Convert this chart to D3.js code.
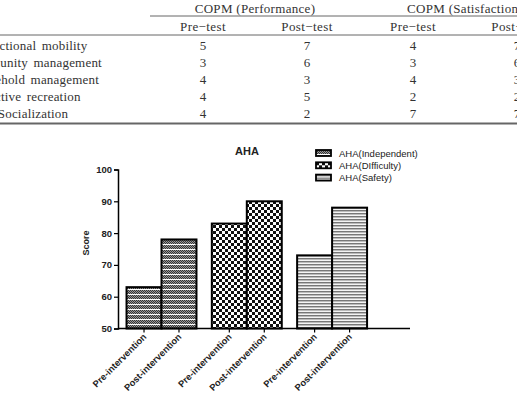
<!DOCTYPE html>
<style>
    body { margin: 0; background: #fff; }
    svg { display: block; }
    .tbl text { font-family: "Liberation Serif", serif; font-size: 13px; fill: #333; }
    .chart text { font-family: "Liberation Sans", Arial, sans-serif; font-weight: bold; fill: #222; }
</style>
<body>
<script src="https://d3js.org/d3.v7.min.js"></script>
<script>
    // table data
    var groupHeads = ["COPM (Performance)", "COPM (Satisfaction)"];
    var subHeads = ["Pre\u2212test", "Post\u2212test", "Pre\u2212test", "Post\u2212test"];
    var rowLabels = ["Functional mobility", "Community management", "Household management", "Active recreation", "Socialization"];
    var perfPre = [5, 3, 4, 4, 4];
    var perfPost = [7, 6, 3, 5, 2];
    var satPre = [4, 3, 4, 2, 7];
    var satPost = [7, 6, 3, 2, 7];

    // chart data
    var groups = ["Independent", "Difficulty", "Safety"];
    var phases = ["Pre-intervention", "Post-intervention"];
    var legendLabels = ["AHA(Independent)", "AHA(DIfficulty)", "AHA(Safety)"];
    var scores = [[63, 78], [83, 90], [73, 88]];
    var yTicks = [50, 60, 70, 80, 90, 100];

    var width = 517, height = 402;
    var svg = d3.select("body").append("svg")
        .attr("width", width)
        .attr("height", height);

    // ---------- table ----------
    var tbl = svg.append("g").attr("class", "tbl");
    var colX = [203, 307, 413, 517];
    var rowY = [46, 63, 80, 97, 114];

    tbl.selectAll(".gh").data(groupHeads).enter().append("text")
        .attr("x", function(d, i) { return (colX[i * 2] + colX[i * 2 + 1]) / 2; })
        .attr("y", 13)
        .attr("text-anchor", "middle")
        .style("letter-spacing", "0.3px")
        .text(function(d) { return d; });

    tbl.append("line").attr("x1", 150).attr("x2", width).attr("y1", 16).attr("y2", 16)
        .attr("stroke", "#666").attr("stroke-width", 1);

    tbl.selectAll(".sh").data(subHeads).enter().append("text")
        .attr("x", function(d, i) { return colX[i]; })
        .attr("y", 31)
        .attr("text-anchor", "middle")
        .style("letter-spacing", "0.4px")
        .text(function(d) { return d; });

    tbl.append("line").attr("x1", 0).attr("x2", width).attr("y1", 35).attr("y2", 35)
        .attr("stroke", "#666").attr("stroke-width", 1);

    var rows = tbl.selectAll(".row").data(rowLabels).enter().append("g")
        .attr("transform", function(d, i) { return "translate(0," + rowY[i] + ")"; });

    rows.append("text")
        .attr("x", 33).attr("y", 4)
        .attr("text-anchor", "middle")
        .style("letter-spacing", "0.2px")
        .style("word-spacing", "2px")
        .text(function(d) { return d; });

    var cols = [perfPre, perfPost, satPre, satPost];
    cols.forEach(function(c, ci) {
        rows.append("text")
            .attr("x", colX[ci]).attr("y", 4)
            .attr("text-anchor", "middle")
            .text(function(d, i) { return c[i]; });
    });

    tbl.append("line").attr("x1", 0).attr("x2", width).attr("y1", 123.5).attr("y2", 123.5)
        .attr("stroke", "#666").attr("stroke-width", 2);

    // ---------- patterns ----------
    var defs = svg.append("defs");

    var p1 = defs.append("pattern").attr("id", "pInd")
        .attr("patternUnits", "userSpaceOnUse").attr("width", 2).attr("height", 5);
    p1.append("rect").attr("width", 2).attr("height", 5).attr("fill", "#fff");
    p1.append("rect").attr("x", 0).attr("y", 0).attr("width", 2).attr("height", 4).attr("fill", "#999");
    p1.append("rect").attr("x", 0).attr("y", 0).attr("width", 1).attr("height", 1).attr("fill", "#333");
    p1.append("rect").attr("x", 1).attr("y", 1).attr("width", 1).attr("height", 1).attr("fill", "#333");
    p1.append("rect").attr("x", 0).attr("y", 2).attr("width", 1).attr("height", 1).attr("fill", "#333");
    p1.append("rect").attr("x", 1).attr("y", 3).attr("width", 1).attr("height", 1).attr("fill", "#333");

    var p2 = defs.append("pattern").attr("id", "pDif")
        .attr("patternUnits", "userSpaceOnUse").attr("width", 6).attr("height", 6);
    p2.append("rect").attr("width", 6).attr("height", 6).attr("fill", "#fff");
    p2.append("rect").attr("width", 3).attr("height", 3).attr("fill", "#111");
    p2.append("rect").attr("x", 3).attr("y", 3).attr("width", 3).attr("height", 3).attr("fill", "#111");

    var p3 = defs.append("pattern").attr("id", "pSaf")
        .attr("patternUnits", "userSpaceOnUse").attr("width", 4).attr("height", 3);
    p3.append("rect").attr("width", 4).attr("height", 3).attr("fill", "#f4f4f4");
    p3.append("rect").attr("y", 0).attr("width", 4).attr("height", 1).attr("fill", "#777");
    p3.append("rect").attr("y", 1).attr("width", 4).attr("height", 1).attr("fill", "#bbb");

    var fills = ["url(#pInd)", "url(#pDif)", "url(#pSaf)"];

    // ---------- chart ----------
    var chart = svg.append("g").attr("class", "chart");

    var y = d3.scaleLinear().domain([50, 100]).range([328.5, 169.5]);
    var x0 = d3.scaleBand().domain(groups).range([118, 375.6])
        .paddingInner(0.18).paddingOuter(0.1);
    var x1 = d3.scaleBand().domain(phases).range([0, x0.bandwidth()]);

    var bars = [];
    groups.forEach(function(g, gi) {
        phases.forEach(function(p, pi) {
            bars.push({ group: g, phase: p, value: scores[gi][pi], gi: gi });
        });
    });

    chart.selectAll(".bar").data(bars).enter().append("rect")
        .attr("x", function(d) { return x0(d.group) + x1(d.phase); })
        .attr("y", function(d) { return y(d.value); })
        .attr("width", x1.bandwidth())
        .attr("height", function(d) { return y(50) - y(d.value); })
        .attr("fill", function(d) { return fills[d.gi]; })
        .attr("stroke", "#000")
        .attr("stroke-width", 2);

    // y axis
    var yAxis = chart.append("g")
        .attr("transform", "translate(118,0)")
        .call(d3.axisLeft(y).tickValues(yTicks).tickSize(4).tickPadding(2));
    yAxis.select(".domain").attr("stroke", "#000").attr("stroke-width", 1.5);
    yAxis.selectAll(".tick line").attr("stroke", "#000").attr("stroke-width", 1.2);
    yAxis.selectAll(".tick text")
        .style("font-family", "Liberation Sans, Arial, sans-serif")
        .style("font-weight", "bold").style("font-size", "9.5px").attr("fill", "#222");

    // x axis
    var xAxisG = chart.append("g").attr("transform", "translate(0,328.5)");
    xAxisG.append("line").attr("x1", 118).attr("x2", 410)
        .attr("stroke", "#000").attr("stroke-width", 1.5);
    var ticks = xAxisG.selectAll(".xt").data(bars).enter().append("g")
        .attr("transform", function(d) {
            return "translate(" + (x0(d.group) + x1(d.phase) + x1.bandwidth() / 2) + ",0)";
        });
    ticks.append("line").attr("y1", 0).attr("y2", 4).attr("stroke", "#000").attr("stroke-width", 1.2);
    ticks.append("text")
        .attr("transform", "translate(3,9) rotate(-45)")
        .attr("text-anchor", "end")
        .style("font-size", "9.3px")
        .text(function(d) { return d.phase; });

    // axis title
    chart.append("text")
        .attr("transform", "translate(89,243) rotate(-90)")
        .attr("text-anchor", "middle")
        .style("font-size", "9px")
        .text("Score");

    // chart title
    chart.append("text")
        .attr("x", 247).attr("y", 155)
        .attr("text-anchor", "middle")
        .style("font-size", "11px")
        .text("AHA");

    // legend
    var legend = chart.selectAll(".lg").data(legendLabels).enter().append("g")
        .attr("transform", function(d, i) { return "translate(316," + (150 + i * 12.3) + ")"; });
    legend.append("rect")
        .attr("width", 15).attr("height", 6)
        .attr("fill", function(d, i) { return fills[i]; })
        .attr("stroke", "#000").attr("stroke-width", 1.8);
    legend.append("text")
        .attr("x", 23).attr("y", 6.5)
        .style("font-size", "9.5px")
        .style("font-weight", "normal")
        .attr("fill", "#111")
        .text(function(d) { return d; });
</script>
</body>
